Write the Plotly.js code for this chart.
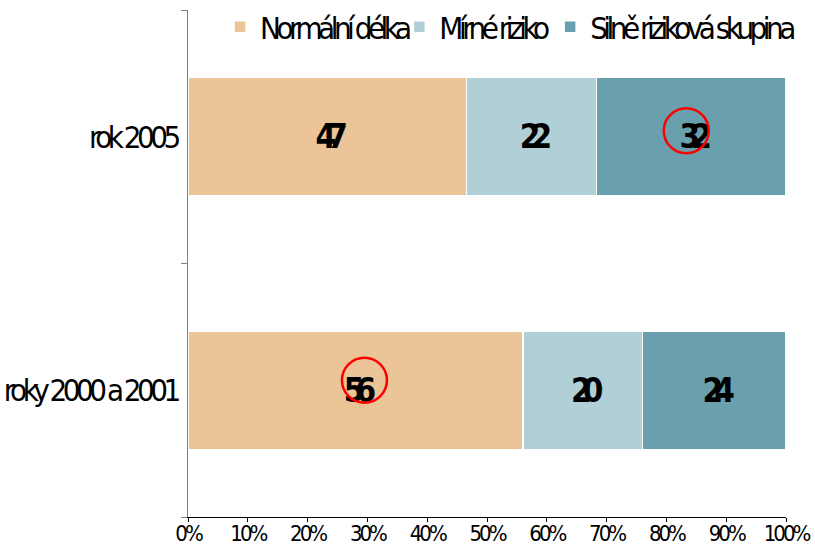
<!DOCTYPE html>
<html>
<head>
<meta charset="utf-8">
<script src="https://cdn.plot.ly/plotly-3.0.1.min.js"></script>
<style>
html,body{margin:0;padding:0;background:#fff;}
#chart{width:815px;height:546px;}
.main-svg text{letter-spacing:-4.5px;}
.main-svg .xtick text{letter-spacing:-3px;}
.main-svg .bartext{letter-spacing:-9px;}
</style>
</head>
<body>
<div id="chart"></div>
<script>
// Data
const categories = ["roky 2000 a 2001", "rok 2005"];
const seriesNames = ["Normální délka", "Mírné riziko", "Silně riziková skupina"];
const normalni = [56, 47];
const mirne = [20, 22];
const silne = [24, 32];
const colors = ["#EBC597", "#B0CFD7", "#6A9FAE"];
const xTickVals = [0, 10, 20, 30, 40, 50, 60, 70, 80, 90, 100];
const xTickText = ["0%", "10%", "20%", "30%", "40%", "50%", "60%", "70%", "80%", "90%", "100%"];
// highlighted (circled) cells: [category index, series index]
const highlights = [[1, 2], [0, 0]];

const FONT = "'DejaVu Sans Condensed', 'DejaVu Sans', sans-serif";
const seriesVals = [normalni, mirne, silne];
const legendIds = ["legend", "legend2", "legend3"];
const legendX = [0.270, 0.490, 0.675];
const circleOffsets = [[-5, 6], [9, 10]];

const traces = seriesVals.map((vals, i) => ({
  type: "bar",
  orientation: "h",
  name: seriesNames[i],
  legend: legendIds[i],
  y: categories,
  x: vals,
  text: vals.map(String),
  textposition: "inside",
  insidetextanchor: "middle",
  textfont: {family: FONT, size: 33, color: "#000", weight: "bold"},
  marker: {color: colors[i], line: {color: "#fff", width: 1.5}},
  hoverinfo: "none"
}));

const shapes = highlights.map(([ci, si], h) => {
  const total = seriesVals.reduce((s, arr) => s + arr[ci], 0);
  let before = 0;
  for (let k = 0; k < si; k++) before += seriesVals[k][ci];
  const center = (before + seriesVals[si][ci] / 2) / total * 100;
  const [dx, dy] = circleOffsets[h];
  const r = 22.5;
  return {
    type: "circle", xref: "x", yref: "y",
    xsizemode: "pixel", ysizemode: "pixel",
    xanchor: center, yanchor: ci,
    x0: dx - r, x1: dx + r, y0: dy - r, y1: dy + r,
    line: {color: "#FF0000", width: 2.5}
  };
});

const legendBase = {
  orientation: "h", xref: "container", yref: "container",
  xanchor: "left", yanchor: "top", y: 1.0,
  font: {family: FONT, size: 31, color: "#000"},
  bgcolor: "rgba(0,0,0,0)", borderwidth: 0
};

const layout = {
  width: 815, height: 546,
  margin: {l: 188, r: 29, t: 10, b: 29, autoexpand: false},
  paper_bgcolor: "#fff", plot_bgcolor: "#fff",
  barmode: "stack", barnorm: "percent",
  bargap: 0.531,
  showlegend: true,
  legend: Object.assign({}, legendBase, {x: legendX[0]}),
  legend2: Object.assign({}, legendBase, {x: legendX[1]}),
  legend3: Object.assign({}, legendBase, {x: legendX[2]}),
  font: {family: FONT, size: 28, color: "#000"},
  xaxis: {
    range: [0, 100], tickvals: xTickVals, ticktext: xTickText,
    showgrid: false, zeroline: false,
    showline: true, linecolor: "#000", linewidth: 1,
    ticks: "outside", ticklen: 4, tickcolor: "#000",
    ticklabeloverflow: "allow", ticklabelstandoff: -7,
    tickfont: {family: FONT, size: 22, color: "#000"}
  },
  yaxis: {
    type: "category", categoryorder: "array", categoryarray: categories,
    showgrid: false, zeroline: false,
    showline: true, linecolor: "#808080", linewidth: 1,
    ticks: "outside", ticklen: 6, tickcolor: "#808080", tickson: "boundaries",
    tickfont: {family: FONT, size: 31, color: "#000"},
    ticklabelstandoff: 4
  },
  shapes: shapes
};

Plotly.newPlot("chart", traces, layout, {displayModeBar: false, staticPlot: true});
</script>
</body>
</html>
